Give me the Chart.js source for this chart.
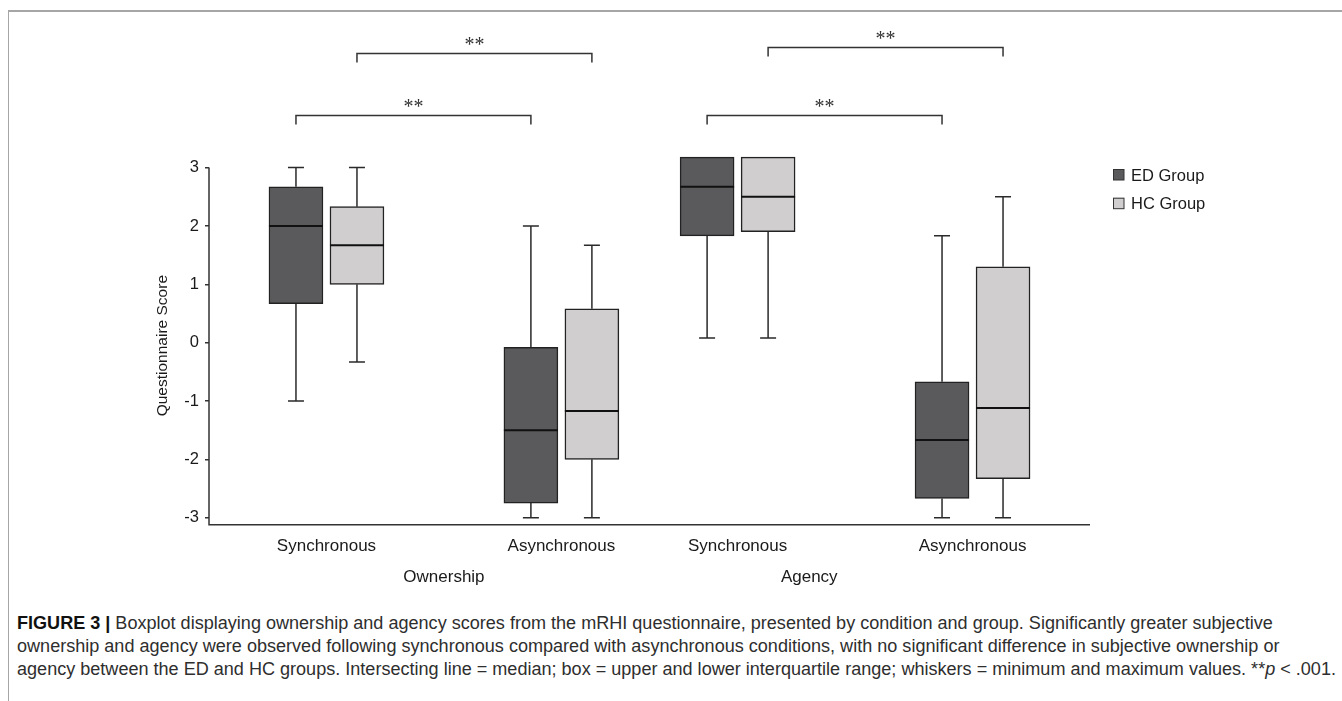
<!DOCTYPE html>
<html><head><meta charset="utf-8">
<script src="https://cdn.jsdelivr.net/npm/chart.js@4"></script>
<style>
html,body{margin:0;padding:0;background:#fff;width:1342px;height:701px;overflow:hidden;}
#frame{position:absolute;left:8px;top:10px;width:1340px;height:700px;border-top:2px solid #a6a6a6;border-left:1.5px solid #a6a6a6;}
#wrap{position:absolute;left:0;top:0;width:1342px;height:600px;}
#caption{position:absolute;left:17px;top:612px;font-family:"Liberation Sans",Arial,sans-serif;color:#2e2e2e;font-size:17.5px;line-height:23px;white-space:nowrap;transform-origin:0 0;}
#caption b{color:#111;}
#caption div{display:block;}
</style></head>
<body>
<div id="frame"></div>
<div id="wrap"><canvas id="c" width="1342" height="600"></canvas></div>
<div id="caption">
<div><span id="l1"><b>FIGURE 3 |</b> Boxplot displaying ownership and agency scores from the mRHI questionnaire, presented by condition and group. Significantly greater subjective</span></div>
<div><span id="l2">ownership and agency were observed following synchronous compared with asynchronous conditions, with no significant difference in subjective ownership or</span></div>
<div><span id="l3">agency between the ED and HC groups. Intersecting line = median; box = upper and lower interquartile range; whiskers = minimum and maximum values. **<i>p</i> &lt; .001.</span></div>
</div>
<script>
// ---- data ----
const categories = ['Synchronous', 'Asynchronous', 'Synchronous', 'Asynchronous'];
const categoryPos = [1, 3, 4.5, 6.5];
const groupLabels = ['Ownership', 'Agency'];
const groupPos = [2.0, 5.11];
const seriesNames = ['ED Group', 'HC Group'];
const edMin    = [-1.0, -3.0, 0.08, -3.0];
const edQ1     = [0.67, -2.75, 1.83, -2.67];
const edMedian = [2.0, -1.5, 2.67, -1.67];
const edQ3     = [2.67, -0.08, 3.18, -0.67];
const edMax    = [3.0, 2.0, 3.18, 1.83];
const hcMin    = [-0.33, -3.0, 0.08, -3.0];
const hcQ1     = [1.0, -2.0, 1.9, -2.33];
const hcMedian = [1.67, -1.17, 2.5, -1.12];
const hcQ3     = [2.33, 0.58, 3.18, 1.30];
const hcMax    = [3.0, 1.67, 3.18, 2.5];
const yTicks = [-3, -2, -1, 0, 1, 2, 3];
const yTitle = 'Questionnaire Score';
const sigText = '**';
const sigFromCat = [0, 0, 2, 2];
const sigToCat   = [1, 1, 3, 3];
const sigSeries  = [0, 1, 0, 1];
const sigLevel   = [3.9, 4.97, 3.9, 5.07];

const edColor = '#5a5a5c', hcColor = '#d0cecf', lineColor = '#222';
const FONT = '"Liberation Sans", Arial, sans-serif';
Chart.defaults.font.family = FONT;

const stats = [
  {min: edMin, med: edMedian, max: edMax, q1: edQ1, q3: edQ3},
  {min: hcMin, med: hcMedian, max: hcMax, q1: hcQ1, q3: hcQ3}
];

const boxParts = {
  id: 'boxParts',
  beforeDatasetsDraw(chart) {
    const ctx = chart.ctx, y = chart.scales.y;
    ctx.save();
    ctx.strokeStyle = '#2a2a2a'; ctx.lineWidth = 1.5;
    stats.forEach((s, d) => {
      chart.getDatasetMeta(d).data.forEach((el, i) => {
        const x = el.x;
        const pMax = y.getPixelForValue(s.max[i]), pMin = y.getPixelForValue(s.min[i]);
        const pQ3 = y.getPixelForValue(s.q3[i]), pQ1 = y.getPixelForValue(s.q1[i]);
        ctx.beginPath();
        if (s.max[i] > s.q3[i]) { ctx.moveTo(x, pQ3); ctx.lineTo(x, pMax); ctx.moveTo(x - 8, pMax); ctx.lineTo(x + 8, pMax); }
        if (s.min[i] < s.q1[i]) { ctx.moveTo(x, pQ1); ctx.lineTo(x, pMin); ctx.moveTo(x - 8, pMin); ctx.lineTo(x + 8, pMin); }
        ctx.stroke();
      });
    });
    ctx.restore();
  },
  afterDatasetsDraw(chart) {
    const ctx = chart.ctx, y = chart.scales.y;
    ctx.save();
    ctx.strokeStyle = '#111'; ctx.lineWidth = 2;
    stats.forEach((s, d) => {
      chart.getDatasetMeta(d).data.forEach((el, i) => {
        const p = y.getPixelForValue(s.med[i]);
        ctx.beginPath(); ctx.moveTo(el.x - el.width / 2, p); ctx.lineTo(el.x + el.width / 2, p); ctx.stroke();
      });
    });
    ctx.restore();
  },
  afterDraw(chart) {
    const ctx = chart.ctx, y = chart.scales.y, x = chart.scales.x, a = chart.chartArea;
    ctx.save();
    // axis lines
    ctx.strokeStyle = '#333'; ctx.lineWidth = 1.5;
    ctx.beginPath();
    ctx.moveTo(a.left, y.getPixelForValue(yTicks[yTicks.length - 1]));
    ctx.lineTo(a.left, a.bottom);
    ctx.lineTo(a.right, a.bottom);
    ctx.stroke();
    // group labels
    ctx.fillStyle = '#1a1a1a';
    ctx.font = '17px ' + FONT;
    ctx.textAlign = 'center'; ctx.textBaseline = 'alphabetic';
    groupLabels.forEach((g, i) => ctx.fillText(g, x.getPixelForValue(groupPos[i]), 581.5));
    // y title
    ctx.save();
    ctx.translate(163, y.getPixelForValue(0) + 3);
    ctx.rotate(-Math.PI / 2);
    ctx.font = '15.5px ' + FONT;
    ctx.textBaseline = 'middle';
    ctx.fillText(yTitle, 0, 0);
    ctx.restore();
    // significance brackets
    ctx.strokeStyle = '#333'; ctx.lineWidth = 1.5;
    ctx.font = '20px "Liberation Serif", "Times New Roman", serif';
    sigLevel.forEach((lv, k) => {
      const meta = chart.getDatasetMeta(sigSeries[k]);
      const x1 = meta.data[sigFromCat[k]].x, x2 = meta.data[sigToCat[k]].x;
      const py = Math.round(y.getPixelForValue(lv)) + 0.5;
      ctx.beginPath();
      ctx.moveTo(x1, py + 9); ctx.lineTo(x1, py); ctx.lineTo(x2, py); ctx.lineTo(x2, py + 9);
      ctx.stroke();
      const m = ctx.measureText(sigText);
      const cy = py - 13;
      const base = cy + (m.actualBoundingBoxAscent - m.actualBoundingBoxDescent) / 2;
      ctx.fillStyle = '#333';
      ctx.textBaseline = 'alphabetic';
      ctx.fillText(sigText, (x1 + x2) / 2, base);
    });
    // legend
    ctx.font = '16.5px ' + FONT;
    ctx.textAlign = 'left';
    chart.data.datasets.forEach((ds, i) => {
      const top = 169 + i * 28.7;
      ctx.fillStyle = ds.backgroundColor;
      ctx.fillRect(1113, top, 11, 11);
      ctx.strokeStyle = '#333'; ctx.lineWidth = 1;
      ctx.strokeRect(1113.5, top + 0.5, 10.5, 10.5);
      ctx.fillStyle = '#1a1a1a';
      ctx.fillText(ds.label, 1131, top + 11.5);
    });
    ctx.restore();
  }
};

function boxData(q1, q3) {
  return categoryPos.map((p, i) => ({x: p, y: [q1[i], q3[i]]}));
}

new Chart(document.getElementById('c'), {
  type: 'bar',
  data: {
    datasets: [
      {label: seriesNames[0], data: boxData(edQ1, edQ3), backgroundColor: edColor},
      {label: seriesNames[1], data: boxData(hcQ1, hcQ3), backgroundColor: hcColor}
    ]
  },
  options: {
    responsive: false,
    animation: false,
    devicePixelRatio: 1,
    layout: {padding: {left: 0, right: 252, top: 13.2, bottom: 0}},
    datasets: {bar: {barThickness: 61, maxBarThickness: 54, borderColor: lineColor, borderWidth: 1.5, borderSkipped: false}},
    plugins: {legend: {display: false}, tooltip: {enabled: false}},
    scales: {
      x: {
        type: 'linear', min: 0, max: 7.5, offset: false,
        afterBuildTicks: s => { s.ticks = categoryPos.map(v => ({value: v})); },
        afterFit: s => { s.height = 75.3; },
        grid: {display: false, drawTicks: false, offset: false},
        border: {display: false},
        ticks: {autoSkip: false, maxRotation: 0, minRotation: 0, padding: 11, color: '#1a1a1a', font: {size: 17},
          callback: (v, i) => categories[i]}
      },
      y: {
        type: 'linear', min: -3.12, max: 5.6,
        afterBuildTicks: s => { s.ticks = yTicks.map(v => ({value: v})); },
        afterFit: s => { s.width = 209; },
        grid: {display: true, drawOnChartArea: false, drawTicks: true, tickLength: 4, color: '#333', lineWidth: 1.5},
        border: {display: false},
        ticks: {padding: 6, color: '#1a1a1a', font: {size: 16.5}}
      }
    }
  },
  plugins: [boxParts]
});

// fit caption width to the reference's line length (condensed look)
(function () {
  const cap = document.getElementById('caption');
  const l3 = document.getElementById('l3');
  const w = l3.getBoundingClientRect().width;
  cap.style.transform = 'scaleX(' + (1319 / w).toFixed(4) + ')';
})();
</script>
</body></html>
